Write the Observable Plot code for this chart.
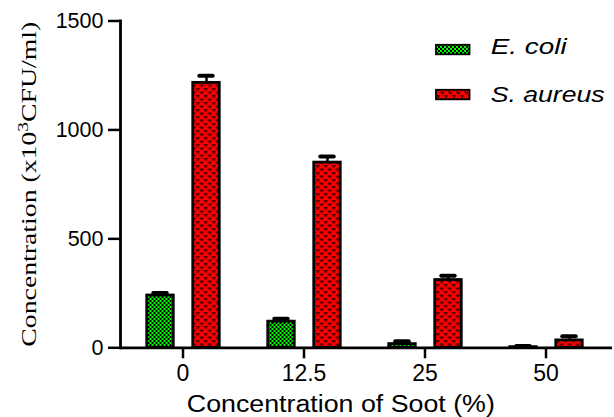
<!DOCTYPE html>
<html>
<head>
<meta charset="utf-8">
<script src="https://cdn.jsdelivr.net/npm/d3@7"></script>
<script src="https://cdn.jsdelivr.net/npm/@observablehq/plot@0.6"></script>
<style>
  html, body { margin: 0; padding: 0; background: white; }
</style>
</head>
<body>
<div id="chart"></div>
<script>
// ---- data ----
const groups = ["0", "12.5", "25", "50"];
const species = ["E. coli", "S. aureus"];
const ecoliMean = [240, 120, 17, 3];
const ecoliErr = [12, 13, 13, 5];
const saureusMean = [1216, 850, 311, 34];
const saureusErr = [33, 28, 20, 19];
const yTicks = [0, 500, 1000, 1500];
const xTitle = "Concentration of Soot (%)";

const means = [ecoliMean, saureusMean];
const errs = [ecoliErr, saureusErr];
const patternIds = ["pat-ecoli", "pat-saureus"];
const offsets = [-22.5, 23.5];

const rows = [];
species.forEach((s, si) => {
  groups.forEach((g, gi) => {
    rows.push({species: s, group: g, mean: means[si][gi], err: errs[si][gi]});
  });
});

const seriesMarks = species.flatMap((s, si) => {
  const data = rows.filter(d => d.species === s);
  const dx = offsets[si];
  return [
    Plot.ruleX(data, {x: "group", y1: "mean", y2: d => d.mean + d.err, stroke: "black", strokeWidth: 2.5, dx}),
    Plot.tickY(data, {x: "group", y: d => d.mean + d.err, stroke: "black", strokeWidth: 4, strokeLinecap: "round", insetLeft: 53.75, insetRight: 53.75, dx}),
    Plot.barY(data, {x: "group", y: "mean", fill: `url(#${patternIds[si]})`, stroke: "black", strokeWidth: 2.8, insetLeft: 47.25, insetRight: 47.25, dx})
  ];
});

const svg = Plot.plot({
  width: 614,
  height: 417,
  marginLeft: 120,
  marginRight: 2,
  marginTop: 20.5,
  marginBottom: 69.7,
  style: {fontFamily: "'Liberation Sans', Arial, sans-serif", fontSize: "21px", color: "black", background: "white"},
  x: {domain: groups, range: [121, 607], padding: 0, label: null},
  y: {domain: [0, 1500], label: null},
  marks: [
    ...seriesMarks,
    Plot.ruleY([0], {stroke: "black", strokeWidth: 2.8}),
    Plot.frame({anchor: "left", stroke: "black", strokeWidth: 2.8}),
    Plot.axisX({tickSize: 11, tickPadding: 6, strokeWidth: 2.5, label: null, fontSize: 23}),
    Plot.axisY({ticks: yTicks, tickFormat: d => String(d), tickSize: 12, tickPadding: 5, strokeWidth: 2.5, label: null, fontSize: 21.5})
  ]
});

const root = d3.select(svg);
const defs = root.insert("defs", ":first-child");

// checkerboard for E. coli
const p1 = defs.append("pattern").attr("id", "pat-ecoli").attr("patternUnits", "userSpaceOnUse")
  .attr("width", 4).attr("height", 4);
p1.append("rect").attr("width", 4).attr("height", 4).attr("fill", "#00ff00");
p1.append("rect").attr("x", 0).attr("y", 0).attr("width", 2).attr("height", 2).attr("fill", "#000").attr("shape-rendering", "crispEdges");
p1.append("rect").attr("x", 2).attr("y", 2).attr("width", 2).attr("height", 2).attr("fill", "#000").attr("shape-rendering", "crispEdges");

// small dark marks on red for S. aureus
const p2 = defs.append("pattern").attr("id", "pat-saureus").attr("patternUnits", "userSpaceOnUse")
  .attr("width", 8).attr("height", 7);
p2.append("rect").attr("width", 8).attr("height", 7).attr("fill", "#ff0000");
[[0.5, 0.5], [4.5, 4]].forEach(([cx, cy]) => {
  p2.append("rect").attr("x", cx).attr("y", cy).attr("width", 1.4).attr("height", 1.4).attr("fill", "#000");
  p2.append("rect").attr("x", cx + 2.2).attr("y", cy).attr("width", 1.4).attr("height", 1.4).attr("fill", "#000");
  p2.append("rect").attr("x", cx + 1.1).attr("y", cy + 1.4).attr("width", 1.4).attr("height", 1.4).attr("fill", "#000");
});

// legend
const legendY = [44.8, 89.8];
const legendTextY = [54.3, 101.7];
const legendLen = [76, 114];
species.forEach((s, i) => {
  root.append("rect").attr("x", 436).attr("y", legendY[i]).attr("width", 33.5).attr("height", 9.5)
    .attr("fill", `url(#${patternIds[i]})`).attr("stroke", "black").attr("stroke-width", 1.8);
  root.append("text").attr("x", 490.7).attr("y", legendTextY[i])
    .attr("text-anchor", "start")
    .attr("font-family", "'Liberation Sans', Arial, sans-serif").attr("font-style", "italic")
    .attr("font-size", 22.5).attr("fill", "black")
    .attr("textLength", legendLen[i]).attr("lengthAdjust", "spacingAndGlyphs")
    .text(s);
});

// y title
const yt = root.append("text")
  .attr("transform", "translate(36,184.2) rotate(-90)")
  .attr("text-anchor", "middle")
  .attr("font-family", "'Liberation Serif', 'Times New Roman', serif")
  .attr("font-size", 21.5).attr("fill", "black")
  .attr("textLength", 325).attr("lengthAdjust", "spacingAndGlyphs");
yt.append("tspan").text("Concentration (x10");
yt.append("tspan").attr("baseline-shift", "super").attr("font-size", 15).text("3");
yt.append("tspan").text("CFU/ml)");

// x title
root.append("text").attr("x", 340.8).attr("y", 411.7).attr("text-anchor", "middle")
  .attr("font-family", "'Liberation Sans', Arial, sans-serif").attr("font-size", 23).attr("fill", "black")
  .attr("textLength", 308).attr("lengthAdjust", "spacingAndGlyphs")
  .text(xTitle);

document.getElementById("chart").appendChild(svg);
</script>
</body>
</html>
